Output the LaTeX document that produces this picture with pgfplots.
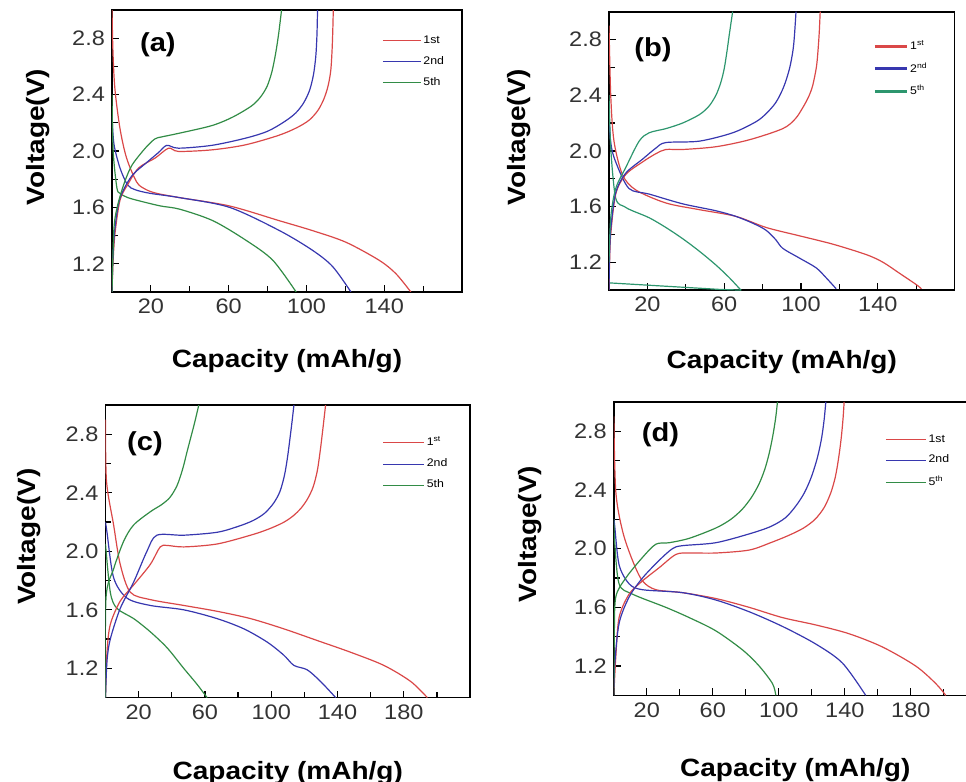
\documentclass[border=0pt]{standalone}
\usepackage{pgfplots}
\pgfplotsset{compat=1.18}
\usepackage{fontspec}
\setmainfont{Liberation Sans}[FakeStretch=1.12]

\definecolor{cr}{RGB}{218,72,72}
\definecolor{cb}{RGB}{55,55,175}
\definecolor{cg}{RGB}{50,140,70}
\definecolor{cgt}{RGB}{45,150,110}

\pgfplotsset{
  panel/.style={
    scale only axis,
    xmin=0, ymin=1.0, ymax=3.0,
    axis line style={line width=0.8pt},
    tick align=inside, tick pos=left,
    major tick length=3.5pt, minor tick length=3pt,
    every tick/.style={black, line width=0.6pt},
    ytick={1.2,1.6,2.0,2.4,2.8},
    minor ytick={1.4,1.8,2.2,2.6},
    /pgf/number format/assume math mode=true,
    tick label style={font=\fontsize{10.5}{12}\selectfont, text=black!80},
    yticklabel style={/pgf/number format/.cd, fixed, fixed zerofill, precision=1},
    xlabel={\bfseries Capacity (mAh/g)},
    ylabel={\bfseries Voltage(V)},
    label style={font=\fontsize{12.5}{14}\selectfont},
    xlabel style={at={(axis description cs:0.5,0)}, anchor=base},
    ylabel style={at={(axis description cs:0,0.55)}, anchor=center},
    legend cell align=left,
    legend style={draw=none, fill=none, anchor=north west,
      font=\fontsize{5.5}{6}\selectfont, row sep=3pt,
      inner sep=0pt, nodes={inner sep=1pt}},
    every axis plot/.append style={line width=0.6pt, smooth, tension=0.5},
  },
}

\begin{document}
\begin{tikzpicture}
\useasboundingbox (0,0) rectangle (483pt,-391pt);

% (a)
\begin{axis}[panel, at={(56pt,-5pt)}, anchor=north west,
  width=175pt, height=141pt, xmax=180,
  xtick={20,60,100,140}, minor xtick={40,80,120,160},
  xlabel style={yshift=-38pt}, ylabel style={yshift=37pt},
  legend style={at={(axis description cs:0.771,0.918)}},
  legend image code/.code={\draw[#1] (0pt,0pt) -- (19pt,0pt);}]
\addplot[cr] coordinates {(0,3.0)(0.5,2.7)(1.5,2.44)(4.1,2.16)(7.5,1.95)(12.7,1.78)(17,1.73)(22.9,1.70)(34.9,1.669)(60.5,1.61)(86.2,1.505)(103.2,1.435)(120.3,1.353)(137.4,1.225)(146,1.13)(153.7,1.0)};
\addlegendentry{1st}
\addplot[cb] coordinates {(0,2.25)(1,2.05)(4.1,1.88)(8,1.76)(12,1.725)(19.5,1.70)(34.9,1.669)(60.5,1.6)(86.2,1.435)(103.2,1.295)(113.5,1.18)(122.9,1.0)};
\addlegendentry{2nd}
\addplot[cg] coordinates {(0,2.4)(0.6,2.0)(2.5,1.74)(4.1,1.70)(8,1.67)(14.4,1.645)(25,1.61)(34.9,1.587)(52,1.505)(69.1,1.365)(82.7,1.225)(94.7,1.0)};
\addlegendentry{5th}
\addplot[cr, forget plot] coordinates {(0,1.0)(0.5,1.2)(1.5,1.41)(4.1,1.65)(8,1.76)(13.7,1.88)(22.2,1.95)(29.1,2.02)(34.2,1.997)(51.3,2.008)(68.4,2.043)(85.5,2.11)(95,2.165)(101.5,2.22)(106,2.29)(109,2.37)(111.1,2.46)(112.5,2.57)(113.2,2.72)(113.6,2.88)(113.8,3.0)};
\addplot[cb, forget plot] coordinates {(0,1.0)(0.5,1.25)(1.5,1.45)(4,1.66)(10,1.82)(18,1.92)(24,1.99)(28.2,2.04)(34.2,2.02)(51.3,2.04)(68.4,2.09)(80,2.14)(88.9,2.21)(94.5,2.27)(98.5,2.34)(101.6,2.43)(103.6,2.54)(104.8,2.67)(105.4,2.82)(105.7,3.0)};
\addplot[cg, forget plot] coordinates {(0,1.0)(1,1.45)(3,1.62)(6.5,1.78)(10.3,1.9)(17.1,2.02)(22,2.085)(25.6,2.10)(34.2,2.125)(51.3,2.18)(62,2.24)(71.8,2.32)(76.5,2.385)(79.8,2.46)(82.2,2.56)(84,2.68)(85.6,2.82)(87.2,3.0)};
\node[anchor=west, font=\bfseries\fontsize{13}{15}\selectfont] at (axis description cs:0.06,0.876) {(a)};
\end{axis}

% (b)
\begin{axis}[panel, at={(304.5pt,-5.85pt)}, anchor=north west,
  width=172.8pt, height=139.2pt, xmax=180,
  xtick={20,60,100,140}, minor xtick={40,80,120,160},
  xlabel style={yshift=-39pt}, ylabel style={yshift=45pt},
  legend style={at={(axis description cs:0.764,0.905)}},
  legend image code/.code={\draw[#1, line width=1.4pt] (0pt,0pt) -- (16pt,0pt);}]
\addplot[cr] coordinates {(0,2.9)(0.9,2.4)(2.6,2.07)(7,1.83)(13.9,1.72)(29.6,1.626)(47,1.578)(66,1.53)(81.8,1.45)(99.2,1.39)(116.6,1.33)(134,1.255)(142.7,1.2)(151.4,1.12)(160,1.04)(162.7,1.01)};
\addlegendentry{1\textsuperscript{st}}
\addplot[cb] coordinates {(0,2.25)(1,2.05)(3.5,1.92)(10.4,1.73)(20.9,1.69)(38.3,1.62)(55.7,1.57)(66,1.53)(75,1.48)(81.8,1.43)(87,1.36)(90.5,1.30)(99.2,1.23)(107.9,1.16)(113,1.09)(118.3,1.01)};
\addlegendentry{2\textsuperscript{nd}}
\addplot[cgt] coordinates {(0,2.4)(1,2.0)(3.5,1.66)(8,1.60)(12.2,1.57)(20.9,1.52)(29.6,1.45)(38.3,1.37)(47,1.28)(55.7,1.18)(62.6,1.09)(68.7,1.0)};
\addlegendentry{5\textsuperscript{th}}
\addplot[cgt, forget plot, sharp plot] coordinates {(0,1.052)(57.5,1.005)(69,1.0)};
\addplot[cr, forget plot] coordinates {(0,1.0)(0.3,1.2)(0.9,1.40)(3.5,1.69)(8.7,1.83)(17.4,1.92)(24.4,1.98)(29.6,2.01)(38.3,2.01)(55.7,2.03)(73.1,2.08)(90.5,2.16)(97,2.23)(100.9,2.31)(104,2.39)(106.1,2.47)(108,2.6)(108.8,2.71)(109.5,2.85)(110,3.0)};
\addplot[cb, forget plot] coordinates {(0,1.0)(0.3,1.25)(1,1.45)(3.5,1.70)(8.7,1.84)(17.4,1.94)(24.4,2.02)(29.6,2.06)(47,2.07)(64.4,2.13)(76.6,2.21)(82,2.27)(87,2.35)(91,2.46)(94,2.59)(95.8,2.72)(96.6,2.83)(97.4,3.0)};
\addplot[cgt, forget plot] coordinates {(0,1.2)(0.9,1.52)(3.5,1.73)(8.7,1.88)(15.7,2.07)(20.9,2.13)(29.6,2.16)(38.3,2.2)(47,2.26)(52,2.32)(55.7,2.40)(58.2,2.49)(60,2.59)(61.5,2.72)(62.6,2.83)(64.4,3.0)};
\node[anchor=west, font=\bfseries\fontsize{13}{15}\selectfont] at (axis description cs:0.053,0.862) {(b)};
\end{axis}

% (c)
\begin{axis}[panel, at={(52.75pt,-202.5pt)}, anchor=north west,
  width=182.3pt, height=146.3pt, xmax=220,
  xtick={20,60,100,140,180}, minor xtick={40,80,120,160,200},
  xlabel style={yshift=-41pt}, ylabel style={yshift=38pt},
  legend style={at={(axis description cs:0.759,0.90)}},
  legend image code/.code={\draw[#1] (0pt,0pt) -- (20.5pt,0pt);}]
\addplot[cr] coordinates {(0,2.9)(0.6,2.48)(4.9,2.18)(8.9,1.91)(15,1.72)(27,1.67)(47.2,1.63)(67.3,1.59)(87.5,1.54)(107.6,1.47)(127.8,1.39)(147.9,1.31)(168,1.22)(184.2,1.11)(194.2,1.0)};
\addlegendentry{1\textsuperscript{st}}
\addplot[cb] coordinates {(0,2.2)(0.9,2.13)(4.9,1.82)(13,1.68)(27,1.63)(47.2,1.60)(67.3,1.54)(83.5,1.47)(97.5,1.38)(107.6,1.29)(113.7,1.22)(121.7,1.19)(129.8,1.11)(138.9,1.0)};
\addlegendentry{2nd}
\addplot[cg] coordinates {(0,2.05)(2.9,1.72)(6.9,1.61)(17,1.54)(27,1.45)(37.2,1.34)(47.2,1.2)(55.3,1.09)(61.3,1.0)};
\addlegendentry{5th}
\addplot[cr, forget plot] coordinates {(0,1.0)(0.9,1.31)(2.9,1.5)(8.9,1.66)(17,1.77)(27,1.91)(33,2.03)(37.2,2.04)(47.2,2.03)(67.3,2.05)(87.5,2.11)(98,2.15)(107,2.195)(113,2.24)(118,2.295)(122,2.36)(125.3,2.44)(127.8,2.55)(129.6,2.69)(131.2,2.84)(132.8,3.0)};
\addplot[cb, forget plot] coordinates {(0,1.0)(0.9,1.25)(2.9,1.4)(8.9,1.61)(17,1.79)(25,2.0)(31,2.11)(47.2,2.11)(67.3,2.13)(80,2.17)(89,2.21)(96,2.26)(101.5,2.33)(105.3,2.41)(108,2.52)(109.8,2.64)(111.3,2.77)(112.6,2.89)(113.7,3.0)};
\addplot[cg, forget plot] coordinates {(0,1.0)(0.3,1.68)(4.9,1.88)(11,2.07)(17,2.18)(27,2.27)(34,2.32)(39,2.37)(43.2,2.45)(46.5,2.56)(49.2,2.68)(51.5,2.78)(53.8,2.88)(56.3,3.0)};
\node[anchor=west, font=\bfseries\fontsize{13}{15}\selectfont] at (axis description cs:0.04,0.866) {(c)};
\end{axis}

% (d)
\begin{axis}[panel, at={(306.9pt,-200.9pt)}, anchor=north west,
  width=181.5pt, height=146.8pt, xmax=220,
  xtick={20,60,100,140,180}, minor xtick={40,80,120,160,200},
  xlabel style={yshift=-40.5pt}, ylabel style={yshift=42pt},
  legend style={at={(axis description cs:0.747,0.897)}},
  legend image code/.code={\draw[#1] (0pt,0pt) -- (20pt,0pt);}]
\addplot[cr] coordinates {(0,2.9)(1.2,2.39)(5.3,2.12)(11.3,1.92)(17.4,1.78)(25.5,1.72)(41.6,1.70)(61.8,1.66)(82,1.60)(102.2,1.53)(122.4,1.48)(142.6,1.42)(162.8,1.33)(183,1.20)(195.2,1.08)(201.2,1.0)};
\addlegendentry{1st}
\addplot[cb] coordinates {(0,2.2)(0.5,2.16)(3.2,1.89)(9.3,1.76)(17.4,1.72)(41.6,1.70)(61.8,1.65)(82,1.57)(102.2,1.47)(122.4,1.35)(138.6,1.22)(152.7,1.0)};
\addlegendentry{2nd}
\addplot[cg] coordinates {(0,2.2)(0.5,2.05)(3.2,1.76)(11.3,1.69)(31.5,1.6)(45.7,1.53)(61.8,1.44)(78,1.31)(88.1,1.20)(96.2,1.08)(98.2,1.0)};
\addlegendentry{5\textsuperscript{th}}
\addplot[cr, forget plot] coordinates {(0,1.0)(1.2,1.26)(3.2,1.53)(9.3,1.69)(17.4,1.78)(27.5,1.87)(37.6,1.96)(45.7,1.97)(61.8,1.97)(82,1.99)(95,2.04)(106,2.09)(115,2.14)(122,2.2)(127.5,2.28)(131.5,2.38)(134.3,2.49)(136.3,2.62)(137.8,2.75)(138.9,2.88)(139.6,3.0)};
\addplot[cb, forget plot] coordinates {(0,1.0)(0.5,1.2)(3.2,1.49)(9.3,1.67)(17.4,1.80)(27.5,1.92)(35.6,2.0)(41.6,2.02)(61.8,2.04)(82,2.10)(95,2.15)(104,2.21)(110.3,2.29)(115.5,2.38)(119.8,2.49)(123.4,2.62)(125.9,2.75)(127.5,2.88)(128.5,3.0)};
\addplot[cg, forget plot] coordinates {(0,1.0)(0.3,1.4)(1.2,1.67)(7.3,1.80)(17.4,1.94)(25.5,2.03)(33.5,2.04)(45.7,2.07)(61.8,2.14)(71,2.2)(78,2.27)(83.5,2.35)(88,2.44)(91.5,2.54)(94.2,2.65)(96.4,2.77)(98.1,2.89)(99.2,3.0)};
\node[anchor=west, font=\bfseries\fontsize{13}{15}\selectfont] at (axis description cs:0.058,0.889) {(d)};
\end{axis}
\end{tikzpicture}
\end{document}
